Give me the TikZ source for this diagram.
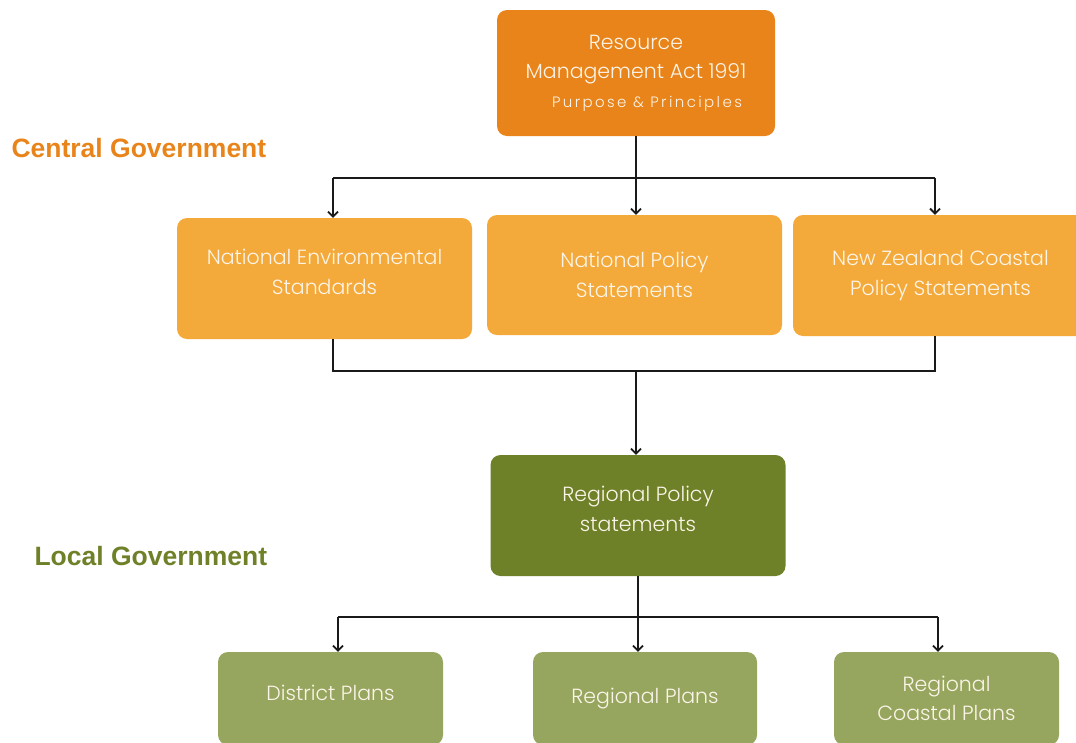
\documentclass[tikz,border=0pt]{standalone}
\usepackage{fontspec}
\setmainfont{Liberation Sans}
\newfontfamily\boxfont{Poppins}[UprightFont=* Light]
\usetikzlibrary{arrows.meta}
\definecolor{rmaorange}{HTML}{E8841A}
\definecolor{natorange}{HTML}{F4AA3B}
\definecolor{rpsgreen}{HTML}{6E8128}
\definecolor{plangreen}{HTML}{97A65F}
\definecolor{linkcol}{HTML}{1A1A1A}
\definecolor{boxtext}{HTML}{FBF4E8}
% lift the text of a card a little while keeping its box size
\newcommand{\liftup}[2]{\raisebox{#1}[\height][\depth]{\begin{tabular}{@{}c@{}}#2\end{tabular}}}
\tikzset{
  card/.style={rectangle, rounded corners=10pt, inner sep=0pt, align=center,
    text=boxtext, font=\boxfont\fontsize{20.5}{29.5}\selectfont},
  link/.style={draw=linkcol, line width=2.2pt},
  linkarrow/.style={link, -{Straight Barb[length=5pt,width=10pt,line width=1.8pt]}},
  tier/.style={font=\bfseries\fontsize{26.5}{30}\selectfont, anchor=west}
}
\begin{document}
\begin{tikzpicture}[x=1pt,y=-1pt]
\useasboundingbox (0,0) rectangle (1076,742);

% top level: the Act
\node[card, fill=rmaorange, minimum width=278pt, minimum height=126pt] (rma) at (636,73)
  {Resource\\Management Act 1991\\[-1pt]{\fontsize{15}{16}\selectfont\addfontfeatures{LetterSpace=16}\hspace*{22pt}Purpose \& Principles}};

% national instruments
\node[card, fill=natorange, minimum width=295pt, minimum height=121pt] (nes) at (324.5,278.5)
  {\liftup{5pt}{National Environmental\\Standards}};
\node[card, fill=natorange, minimum width=295pt, minimum height=120pt] (nps) at (634.5,275)
  {National Policy\\Statements};
\node[card, fill=natorange, minimum width=295pt, minimum height=121pt] (nzc) at (940.5,275.5)
  {New Zealand Coastal\\Policy Statements};

% regional level
\node[card, fill=rpsgreen, minimum width=295pt, minimum height=121pt] (rps) at (638,515.5)
  {\liftup{5pt}{Regional Policy\\statements}};

% plans
\node[card, fill=plangreen, minimum width=225pt, minimum height=93pt] (dp) at (330.5,698.5)
  {\liftup{4pt}{District Plans}};
\node[card, fill=plangreen, minimum width=224pt, minimum height=93pt] (rp) at (645,698.5)
  {Regional Plans};
\node[card, fill=plangreen, minimum width=225pt, minimum height=93pt] (rcp) at (946.5,698.5)
  {Regional\\Coastal Plans};

% tier labels
\node[tier, text=rmaorange] (central) at (8,148) {Central Government};
\node[tier, text=rpsgreen] (local) at (31,556) {Local Government};

% Act -> national instruments
\coordinate (topL) at (333,178);
\coordinate (topR) at (935,178);
\draw[link] (rma.south) -- (rma.south |- topL);
\draw[link] (topL) -- (topR);
\draw[linkarrow] (topL) -- (topL |- nes.north);
\draw[linkarrow] (rma.south |- topL) -- (rma.south |- nps.north);
\draw[linkarrow] (topR) -- (topR |- nzc.north);

% national instruments -> regional policy
\coordinate (midL) at (333,371);
\coordinate (midR) at (935,371);
\draw[link] (midL |- nes.south) -- (midL) -- (midR) -- (midR |- nzc.south);
\draw[linkarrow] (636,371) -- (636,0 |- rps.north);

% regional policy -> plans
\coordinate (lowL) at (338,617);
\coordinate (lowR) at (938,617);
\draw[link] (rps.south) -- (rps.south |- lowL);
\draw[link] (lowL) -- (lowR);
\draw[linkarrow] (lowL) -- (lowL |- dp.north);
\draw[linkarrow] (rps.south |- lowL) -- (rps.south |- rp.north);
\draw[linkarrow] (lowR) -- (lowR |- rcp.north);
\end{tikzpicture}
\end{document}
